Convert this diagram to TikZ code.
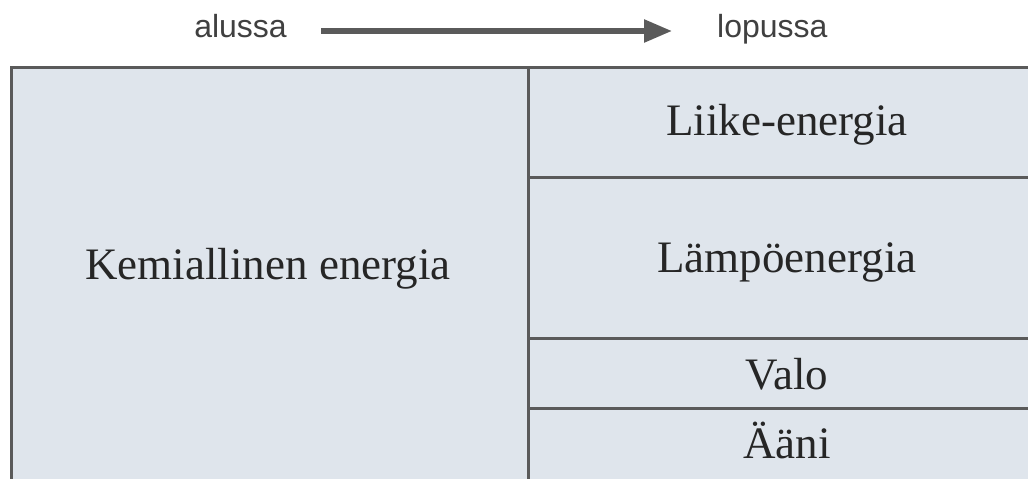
\documentclass[tikz,border=0pt]{standalone}
\usepackage{fontspec}
\setmainfont{Liberation Serif}
\newfontfamily\endfont{Liberation Sans}
\usetikzlibrary{arrows.meta}
\definecolor{cellfill}{HTML}{DFE5EC}
\definecolor{rulegray}{HTML}{5A5A5A}
\tikzset{
  rule/.style={draw=rulegray, line width=3pt},
  cell/.style={anchor=base, inner sep=0pt, text=black!85, font=\fontsize{45}{52}\selectfont},
  ends/.style={inner sep=0pt, text height=12pt, text depth=0pt, text=black!75, font=\endfont\fontsize{32}{38}\selectfont},
  flow/.style={draw=rulegray, line width=5.5pt, -{Triangle[length=28pt,width=22pt]}}
}

\begin{document}
\begin{tikzpicture}[x=1pt,y=-1pt]
    \useasboundingbox (0,0) rectangle (1028,479);
    \clip (0,0) rectangle (1028,479);
    % table
    \fill[cellfill] (11,67) rectangle (1040,490);
    \draw[rule] (11,490) -- (11,67) -- (1040,67);
    \draw[rule] (528,67) -- (528,490);
    \foreach \y in {177,338,408}
      \draw[rule] (528,\y) -- (1040,\y);
    % cells
    \node[cell] (kemiallinen) at (268,279) {Kemiallinen energia};
    \node[cell] (liike) at (787,135) {Liike-energia};
    \node[cell] (lampo) at (787,272) {Lämpöenergia};
    \node[cell] (valo) at (787,389) {Valo};
    \node[cell] (aani) at (787,458) {Ääni};
    % start and end
    \node[ends, anchor=east] (alussa) at (287,31) {alussa};
    \node[ends, anchor=west] (lopussa) at (717,31) {lopussa};
    \draw[flow, shorten <=34pt, shorten >=45pt] (alussa.east) -- (lopussa.west);
\end{tikzpicture}
\end{document}
